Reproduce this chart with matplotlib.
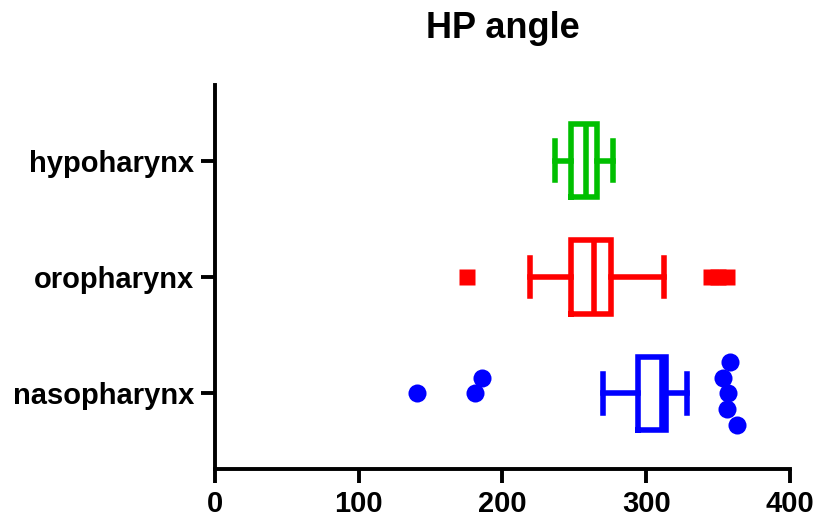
import matplotlib
matplotlib.use('Agg')
import matplotlib.pyplot as plt

# 카테고리 / 박스 통계
groups = ['nasopharynx', 'oropharynx', 'hypoharynx']
whislo = [270, 219, 236.5]
q1 = [294, 247.5, 248]
med = [311, 264, 258]
q3 = [314, 275.5, 266]
whishi = [328, 312, 277]
fliers = [[140.5, 181, 186, 357, 353.6, 356, 358, 363],
          [175, 345, 350, 356],
          []]
colors = ['#0000FF', '#FF0000', '#00BF00']
markers = ['o', 's', 's']
swarm = [True, False, False]
xticks = [0, 100, 200, 300, 400]

plt.rcParams['font.family'] = ['Liberation Sans', 'DejaVu Sans']
plt.rcParams['font.weight'] = 'bold'
plt.rcParams['lines.solid_joinstyle'] = 'miter'

fig = plt.figure(figsize=(8.17, 5.24), dpi=100)
ax = fig.add_axes([0.263, 0.105, 0.704, 0.733])

LW = 4.0
MARK_X = 12.5   # 점 지름 (x 데이터 단위)
ROW = 0.135     # 스웜 한 줄 간격 (y 데이터 단위)


def swarm_offsets(vals):
    # 같은 줄에 지름 안쪽 점이 있으면 0, +1, -1, +2, -2 ... 줄로 옮김
    rows = {}
    out = []
    for v in vals:
        k = 0
        order = [0] + [s * n for n in range(1, 10) for s in (1, -1)]
        for k in order:
            if all(abs(v - u) >= MARK_X for u in rows.get(k, [])):
                break
        rows.setdefault(k, []).append(v)
        out.append(k * ROW)
    return out


for i, name in enumerate(groups):
    st = dict(label=name, whislo=whislo[i], q1=q1[i], med=med[i],
              q3=q3[i], whishi=whishi[i], fliers=[])
    lp = dict(color=colors[i], lw=LW)
    ax.bxp([st], positions=[i], widths=0.63, capwidths=0.33,
           orientation='horizontal', showfliers=False,
           boxprops=lp, whiskerprops=lp, capprops=lp, medianprops=lp)
    if fliers[i]:
        offs = swarm_offsets(fliers[i]) if swarm[i] else [0] * len(fliers[i])
        ax.plot(fliers[i], [i + o for o in offs], markers[i], color=colors[i],
                ms=13 if markers[i] == 'o' else 12, mec='none', ls='none')

ax.set_xlim(0, 400)
ax.set_ylim(-0.65, 2.65)
ax.set_xticks(xticks)
ax.set_yticks(range(len(groups)))
ax.set_yticklabels(groups)
for s in ('top', 'right'):
    ax.spines[s].set_visible(False)
for s in ('left', 'bottom'):
    ax.spines[s].set_linewidth(2.8)
ax.tick_params(axis='both', length=10, width=2.8, labelsize=21, pad=5)
for lab in ax.get_xticklabels() + ax.get_yticklabels():
    lab.set_fontweight('bold')

ax.set_title('HP angle', fontsize=26, fontweight='bold', pad=34)

fig.savefig('out.png', dpi=100)
